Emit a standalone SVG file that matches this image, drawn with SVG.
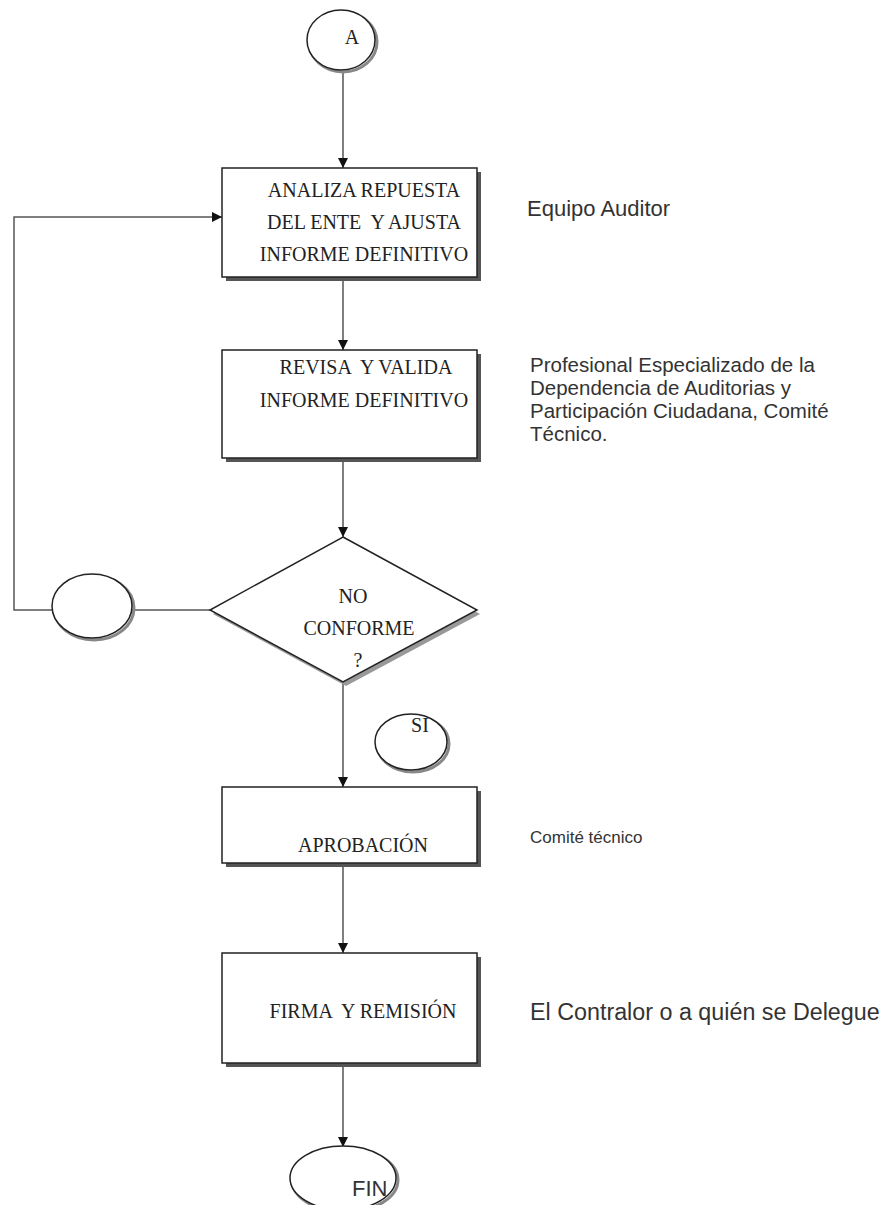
<svg xmlns="http://www.w3.org/2000/svg" width="884" height="1205" viewBox="0 0 884 1205">
<style>
.box{fill:#fff;stroke:#222;stroke-width:1.5}
.shd{fill:#555;stroke:none}
.shdl{fill:none;stroke:#888;stroke-width:3}
.ser{font-family:"Liberation Serif","Times New Roman",serif;font-size:20px;fill:#222;text-anchor:middle}
.san{font-family:"Liberation Sans",Arial,sans-serif;fill:#333}
.con{fill:none;stroke:#555;stroke-width:1.5}
</style>
<defs>
<marker id="arr" viewBox="0 0 10 10" refX="10" refY="5" markerWidth="10" markerHeight="10" markerUnits="userSpaceOnUse" orient="auto">
<path d="M0,0 L10,5 L0,10 z" fill="#111"/>
</marker>
</defs>
<rect width="884" height="1205" fill="#fff"/>
<g id="connectors">
<line class="con" x1="343" y1="71" x2="343" y2="168" marker-end="url(#arr)"/>
<line class="con" x1="343" y1="278" x2="343" y2="350" marker-end="url(#arr)"/>
<line class="con" x1="343" y1="459" x2="343" y2="537" marker-end="url(#arr)"/>
<line class="con" x1="343" y1="683" x2="343" y2="787" marker-end="url(#arr)"/>
<line class="con" x1="343" y1="864" x2="343" y2="953" marker-end="url(#arr)"/>
<line class="con" x1="343" y1="1064" x2="343" y2="1147" marker-end="url(#arr)"/>
<line class="con" x1="132" y1="610" x2="210" y2="610"/>
<polyline class="con" points="52,610 14,610 14,217 222,217" stroke="#333" marker-end="url(#arr)"/>
</g>
<g id="nodeA">
<ellipse class="shdl" cx="343" cy="42" rx="34" ry="30"/>
<ellipse class="box" cx="341" cy="40" rx="34" ry="30"/>
<text class="ser" x="352" y="44">A</text>
</g>
<g id="box1">
<rect class="shd" x="226" y="172" width="255" height="109"/>
<rect class="box" x="222" y="168" width="255" height="109"/>
<text class="ser" x="364" y="197">ANALIZA REPUESTA</text>
<text class="ser" x="364" y="229" xml:space="preserve">DEL ENTE  Y AJUSTA</text>
<text class="ser" x="364" y="261">INFORME DEFINITIVO</text>
</g>
<g id="box2">
<rect class="shd" x="226" y="354" width="255" height="108"/>
<rect class="box" x="222" y="350" width="255" height="108"/>
<text class="ser" x="366" y="374" xml:space="preserve">REVISA  Y VALIDA</text>
<text class="ser" x="364" y="407">INFORME DEFINITIVO</text>
</g>
<g id="decision">
<polygon points="346,541 480,614 346,686 213,614" fill="#999"/>
<polygon class="box" points="343,537 477,610 343,682 210,610"/>
<text class="ser" x="353" y="603">NO</text>
<text class="ser" x="359" y="635">CONFORME</text>
<text class="ser" x="358" y="667">?</text>
</g>
<g id="connectorNode">
<ellipse class="shdl" cx="94" cy="608" rx="40" ry="32"/>
<ellipse class="box" cx="92" cy="606" rx="40" ry="32"/>
</g>
<g id="nodeSI">
<ellipse class="shdl" cx="413" cy="744" rx="36" ry="28"/>
<ellipse class="box" cx="411" cy="742" rx="36" ry="28"/>
<text class="ser" x="420" y="732">SI</text>
</g>
<g id="box3">
<rect class="shd" x="226" y="791" width="255" height="76"/>
<rect class="box" x="222" y="787" width="255" height="76"/>
<text class="ser" x="363" y="852">APROBACIÓN</text>
</g>
<g id="box4">
<rect class="shd" x="226" y="957" width="255" height="110"/>
<rect class="box" x="222" y="953" width="255" height="110"/>
<text class="ser" x="363" y="1018" xml:space="preserve">FIRMA  Y REMISIÓN</text>
</g>
<g id="nodeFIN">
<ellipse class="shdl" cx="345" cy="1180" rx="53" ry="32"/>
<ellipse class="box" cx="343" cy="1178" rx="53" ry="32"/>
<text class="san" x="352" y="1196" font-size="22">FIN</text>
</g>
<g id="labels">
<text class="san" x="527" y="216" font-size="22">Equipo Auditor</text>
<text class="san" font-size="20.5">
<tspan x="530" y="372">Profesional Especializado de la</tspan>
<tspan x="530" y="395">Dependencia de Auditorias y</tspan>
<tspan x="530" y="418">Participación Ciudadana, Comité</tspan>
<tspan x="530" y="441">Técnico.</tspan>
</text>
<text class="san" x="530" y="843" font-size="17">Comité técnico</text>
<text class="san" x="530" y="1020" font-size="23.3">El Contralor o a quién se Delegue</text>
</g>
</svg>
